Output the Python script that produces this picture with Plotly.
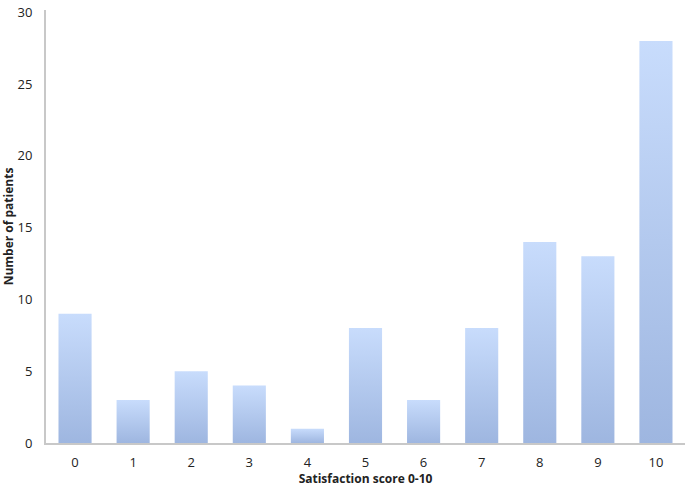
import plotly.graph_objects as go

scores = [0, 1, 2, 3, 4, 5, 6, 7, 8, 9, 10]
patients = [9, 3, 5, 4, 1, 8, 3, 8, 14, 13, 28]
y_ticks = [0, 5, 10, 15, 20, 25, 30]

BAR_W = 0.57
TOP = "#c8dcfc"
BOTTOM = "#9eb6e0"

fig = go.Figure()
for s, v in zip(scores, patients):
    x0, x1 = s - BAR_W / 2, s + BAR_W / 2
    fig.add_trace(go.Scatter(
        x=[x0, x0, x1, x1, x0],
        y=[0, v, v, 0, 0],
        mode="lines",
        line=dict(width=0),
        fill="toself",
        fillgradient=dict(type="vertical", colorscale=[[0, BOTTOM], [1, TOP]], start=0, stop=v),
        hoverinfo="skip",
        showlegend=False,
    ))

font = "'Open Sans', sans-serif"
fig.update_layout(
    width=686, height=487,
    margin=dict(l=46, r=1, t=10, b=44),
    plot_bgcolor="white", paper_bgcolor="white",
    font=dict(family=font, size=12, color="#222"),
    showlegend=False,
)
fig.update_xaxes(
    range=[-0.5, 10.5], tickvals=scores, ticktext=[str(s) for s in scores],
    showgrid=False, zeroline=False, showline=True, linecolor="#c8c8c8", linewidth=2,
    ticks="", ticklabelstandoff=6, automargin=False, tickfont=dict(size=13),
    title=dict(text="<b>Satisfaction score 0-10</b>", font=dict(size=12), standoff=4),
)
fig.update_yaxes(
    range=[0, 30.15], tickvals=y_ticks,
    showgrid=False, zeroline=False, showline=True, linecolor="#c8c8c8", linewidth=2,
    ticks="", ticklabelstandoff=9, automargin=False, tickfont=dict(size=13),
    ticklabeloverflow="allow",
    title=dict(text="<b>Number of patients</b>", font=dict(size=12), standoff=6),
)
fig.write_html("out.html", config={"displayModeBar": False})

with open("out.html", "r", encoding="utf-8") as f:
    html = f.read()
html = html.replace("<head>", "<head><style>html,body{margin:0;padding:0;overflow:hidden;}</style>", 1)
with open("out.html", "w", encoding="utf-8") as f:
    f.write(html)
